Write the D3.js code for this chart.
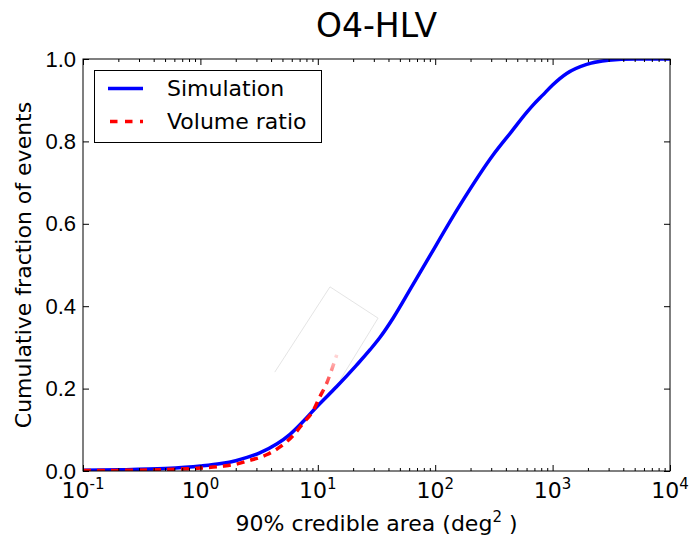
<!DOCTYPE html>
<html>
<head>
<meta charset="utf-8">
<script src="https://d3js.org/d3.v7.min.js"></script>
<style>
  body { margin: 0; background: #fff; }
  svg { font-family: 'DejaVu Sans', sans-serif; }
  .axis path.domain { display: none; }
  .axis line { stroke: #000; stroke-width: 1; }
  .axis text { font-size: 22px; fill: #000; }
</style>
</head>
<body>
<svg id="chart" width="689" height="538"></svg>
<script>
// values
const simArea = [0.1, 0.2, 0.5, 1, 1.5, 2, 2.5, 3.2, 4.5, 5.8, 7.5, 9.8, 14.5, 21.4, 28, 33.8, 44, 61, 85, 163, 311, 450, 604, 681, 828, 1000, 1318, 1950, 3000, 5000, 10000];
const simFrac = [0.002, 0.003, 0.006, 0.012, 0.018, 0.025, 0.033, 0.044, 0.066, 0.089, 0.12, 0.156, 0.205, 0.257, 0.295, 0.324, 0.372, 0.44, 0.51, 0.646, 0.767, 0.825, 0.871, 0.888, 0.913, 0.937, 0.965, 0.987, 0.997, 1.0, 1.0];

const volArea = [0.1, 0.3, 0.6, 1, 1.58, 2.1, 2.5, 3.7, 4.8, 6.2, 7.5, 9.2, 10.4, 11.9, 13.1, 14.5];
const volFrac = [0.001, 0.002, 0.004, 0.007, 0.012, 0.018, 0.024, 0.04, 0.059, 0.087, 0.116, 0.148, 0.18, 0.213, 0.245, 0.282];

// faint leftover outline near the middle of the plot
const ghostArea = [4.3, 12.7, 32.6, 15.5];
const ghostFrac = [0.24, 0.447, 0.371, 0.221];

const xTicks = [0.1, 1, 10, 100, 1000, 10000];
const xExps = ["-1", "0", "1", "2", "3", "4"];
const yTicks = [0, 0.2, 0.4, 0.6, 0.8, 1.0];
const seriesNames = ["Simulation", "Volume ratio"];

const svg = d3.select("#chart");
const margin = { top: 59, right: 19, bottom: 67, left: 83 };
const W = 689, H = 538;

const x = d3.scaleLog().domain([0.1, 10000]).range([margin.left, W - margin.right]);
const y = d3.scaleLinear().domain([0, 1]).range([H - margin.bottom, margin.top]);

const minorX = [];
for (let e = -1; e < 4; e++) for (let m = 2; m < 10; m++) minorX.push(m * Math.pow(10, e));

// clip
svg.append("clipPath").attr("id", "clip").append("rect")
  .attr("x", margin.left).attr("y", margin.top)
  .attr("width", W - margin.left - margin.right).attr("height", H - margin.top - margin.bottom);

// fade for the end of the dashed line
const grad = svg.append("defs").append("linearGradient")
  .attr("id", "fade").attr("gradientUnits", "userSpaceOnUse")
  .attr("x1", 0).attr("x2", 0).attr("y1", y(0.18)).attr("y2", y(0.29));
grad.append("stop").attr("offset", 0).attr("stop-color", "red").attr("stop-opacity", 1);
grad.append("stop").attr("offset", 1).attr("stop-color", "red").attr("stop-opacity", 0.08);

const line = d3.line().x(d => x(d[0])).y(d => y(d[1])).curve(d3.curveMonotoneX);

const plot = svg.append("g").attr("clip-path", "url(#clip)");

plot.append("path")
  .datum(ghostArea.map((a, i) => [a, ghostFrac[i]]))
  .attr("d", d3.line().x(d => x(d[0])).y(d => y(d[1])))
  .attr("fill", "none").attr("stroke", "#d8d8d8").attr("stroke-width", 0.7);

plot.append("path")
  .datum(simArea.map((a, i) => [a, simFrac[i]]))
  .attr("d", line)
  .attr("fill", "none").attr("stroke", "#0000ff").attr("stroke-width", 3.5);

plot.append("path")
  .datum(volArea.map((a, i) => [a, volFrac[i]]))
  .attr("d", line)
  .attr("fill", "none").attr("stroke", "url(#fade)").attr("stroke-width", 3.5)
  .attr("stroke-dasharray", "8,6");

// axes, ticks inside on all four sides
svg.append("g").attr("class", "axis")
  .attr("transform", `translate(0,${y(0)})`)
  .call(d3.axisBottom(x).tickValues(xTicks).tickSize(-6).tickFormat(""));
svg.append("g").attr("class", "axis")
  .attr("transform", `translate(0,${y(0)})`)
  .call(d3.axisBottom(x).tickValues(minorX).tickSize(-3).tickFormat(""));
svg.append("g").attr("class", "axis")
  .attr("transform", `translate(0,${y(1)})`)
  .call(d3.axisTop(x).tickValues(xTicks).tickSize(-6).tickFormat(""));
svg.append("g").attr("class", "axis")
  .attr("transform", `translate(0,${y(1)})`)
  .call(d3.axisTop(x).tickValues(minorX).tickSize(-3).tickFormat(""));

svg.append("g").attr("class", "axis")
  .attr("transform", `translate(${x(0.1)},0)`)
  .call(d3.axisLeft(y).tickValues(yTicks).tickSize(-6).tickPadding(7).tickFormat(d3.format(".1f")));
svg.append("g").attr("class", "axis")
  .attr("transform", `translate(${x(10000)},0)`)
  .call(d3.axisRight(y).tickValues(yTicks).tickSize(-6).tickFormat(""));

// frame
svg.append("rect")
  .attr("x", x(0.1)).attr("y", y(1))
  .attr("width", x(10000) - x(0.1)).attr("height", y(0) - y(1))
  .attr("fill", "none").attr("stroke", "#000").attr("stroke-width", 1);

// x tick labels with exponents
const xl = svg.append("g").selectAll("text").data(xTicks).join("text")
  .attr("x", d => x(d)).attr("y", 498)
  .attr("text-anchor", "middle").attr("font-size", 22);
xl.append("tspan").text("10");
xl.append("tspan").attr("dy", -9).attr("font-size", 15).text((d, i) => xExps[i]);

// labels
svg.append("text")
  .attr("x", (x(0.1) + x(10000)) / 2).attr("y", 37)
  .attr("text-anchor", "middle").attr("font-size", 33).text("O4-HLV");

const xLab = svg.append("text")
  .attr("x", (x(0.1) + x(10000)) / 2).attr("y", 531)
  .attr("text-anchor", "middle").attr("font-size", 22);
xLab.append("tspan").text("90% credible area (deg");
xLab.append("tspan").attr("dy", -9).attr("font-size", 15).text("2");
xLab.append("tspan").attr("dy", 9).text(" )");

svg.append("text")
  .attr("transform", `translate(31,${(y(0) + y(1)) / 2}) rotate(-90)`)
  .attr("text-anchor", "middle").attr("font-size", 22)
  .text("Cumulative fraction of events");

// legend
const lg = svg.append("g");
lg.append("rect")
  .attr("x", 94.5).attr("y", 70.5).attr("width", 227).attr("height", 72)
  .attr("fill", "#fff").attr("stroke", "#000").attr("stroke-width", 1);
lg.append("line").attr("x1", 108).attr("x2", 143).attr("y1", 88.5).attr("y2", 88.5)
  .attr("stroke", "#0000ff").attr("stroke-width", 3.5);
lg.append("line").attr("x1", 110).attr("x2", 143).attr("y1", 121.5).attr("y2", 121.5)
  .attr("stroke", "red").attr("stroke-width", 3.5).attr("stroke-dasharray", "7.5,7.5");
lg.selectAll("text.leg").data(seriesNames).join("text")
  .attr("class", "leg")
  .attr("x", 167).attr("y", (d, i) => 96 + i * 33)
  .attr("font-size", 22).text(d => d);
</script>
</body>
</html>
